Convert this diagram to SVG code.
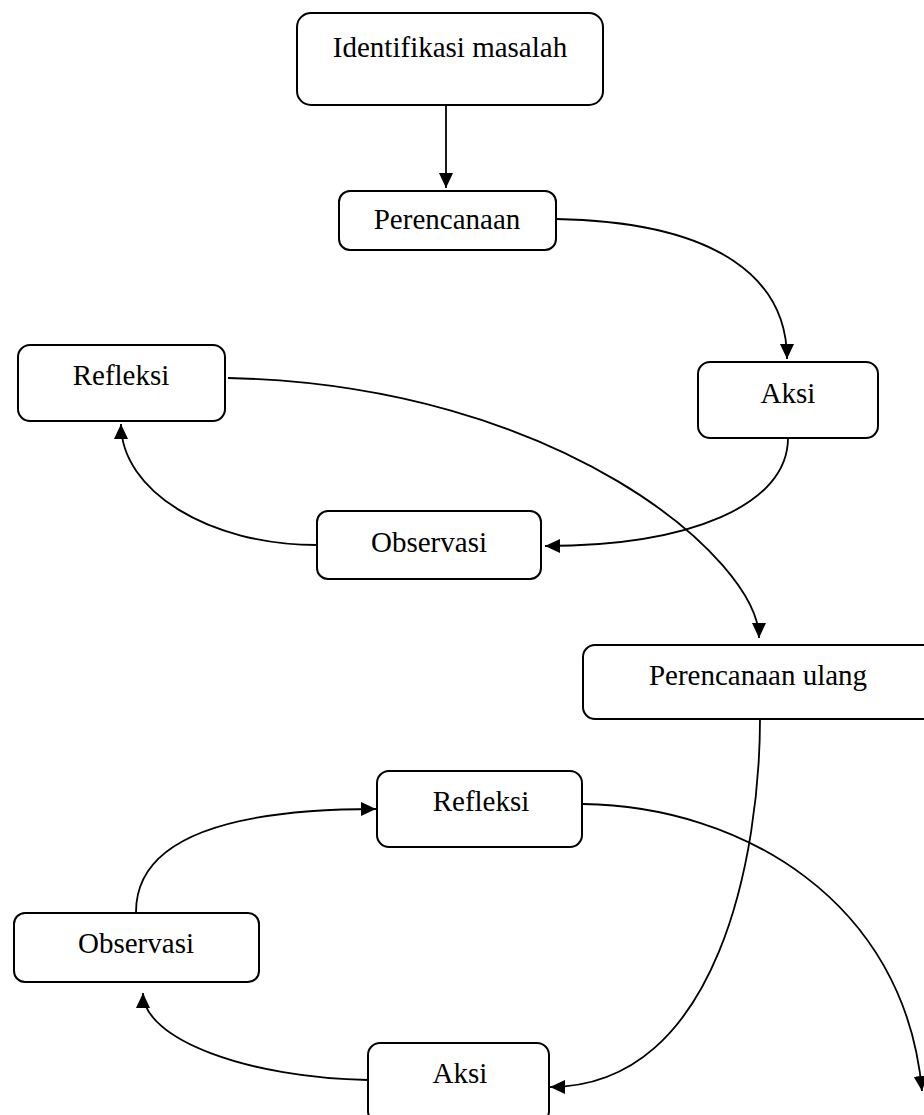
<svg xmlns="http://www.w3.org/2000/svg" width="924" height="1115" viewBox="0 0 924 1115">
<style>
.box{fill:#fff;stroke:#000;stroke-width:2}
.lbl{font-family:"Liberation Serif","Times New Roman",serif;font-size:29px;fill:#000;text-anchor:middle}
.con{fill:none;stroke:#000;stroke-width:1.8}
</style>
<defs>
<marker id="ah" markerUnits="userSpaceOnUse" markerWidth="16" markerHeight="16" viewBox="0 0 16 16" refX="15" refY="8" orient="auto">
<path d="M0,1 L15,8 L0,15 Z" fill="#000"/>
</marker>
</defs>
<rect width="924" height="1115" fill="#fff"/>
<g id="connectors">
<path class="con" d="M446,105 L446,188" stroke-width="2.6" marker-end="url(#ah)"/>
<path class="con" d="M556,219 C720,222 787,280 787,359" marker-end="url(#ah)"/>
<path class="con" d="M788,438 C788,505 690,546 545,546" marker-end="url(#ah)"/>
<path class="con" d="M317,545 C209,545 121,491 121,424" marker-end="url(#ah)"/>
<path class="con" d="M228,378 C560,385 759,560 759,638" marker-end="url(#ah)"/>
<path class="con" d="M760,719 C760,850 720,1087 550,1087" marker-end="url(#ah)"/>
<path class="con" d="M136,912 C136,850 200,809 376,809" marker-end="url(#ah)"/>
<path class="con" d="M368,1080 C250,1078 143,1040 143,993" marker-end="url(#ah)"/>
<path class="con" d="M583,804 C740,806 905,900 922,1091" marker-end="url(#ah)"/>
</g>
<g id="n-identifikasi">
<rect class="box" x="297" y="13" width="306" height="92" rx="14"/>
<text class="lbl" x="450" y="57">Identifikasi masalah</text>
</g>
<g id="n-perencanaan">
<rect class="box" x="339" y="191" width="217" height="59" rx="11"/>
<text class="lbl" x="447" y="229">Perencanaan</text>
</g>
<g id="n-aksi1">
<rect class="box" x="698" y="362" width="180" height="76" rx="12"/>
<text class="lbl" x="788" y="403">Aksi</text>
</g>
<g id="n-refleksi1">
<rect class="box" x="18" y="345" width="207" height="76" rx="12"/>
<text class="lbl" x="121" y="385">Refleksi</text>
</g>
<g id="n-observasi1">
<rect class="box" x="317" y="511" width="224" height="68" rx="11"/>
<text class="lbl" x="429" y="552">Observasi</text>
</g>
<g id="n-perencanaan-ulang">
<rect class="box" x="583" y="645" width="360" height="74" rx="12"/>
<text class="lbl" x="758" y="685">Perencanaan ulang</text>
</g>
<g id="n-refleksi2">
<rect class="box" x="377" y="771" width="205" height="76" rx="12"/>
<text class="lbl" x="481" y="811">Refleksi</text>
</g>
<g id="n-observasi2">
<rect class="box" x="14" y="913" width="245" height="69" rx="11"/>
<text class="lbl" x="136" y="953">Observasi</text>
</g>
<g id="n-aksi2">
<rect class="box" x="368" y="1043" width="181" height="80" rx="12"/>
<text class="lbl" x="460" y="1083">Aksi</text>
</g>
</svg>
